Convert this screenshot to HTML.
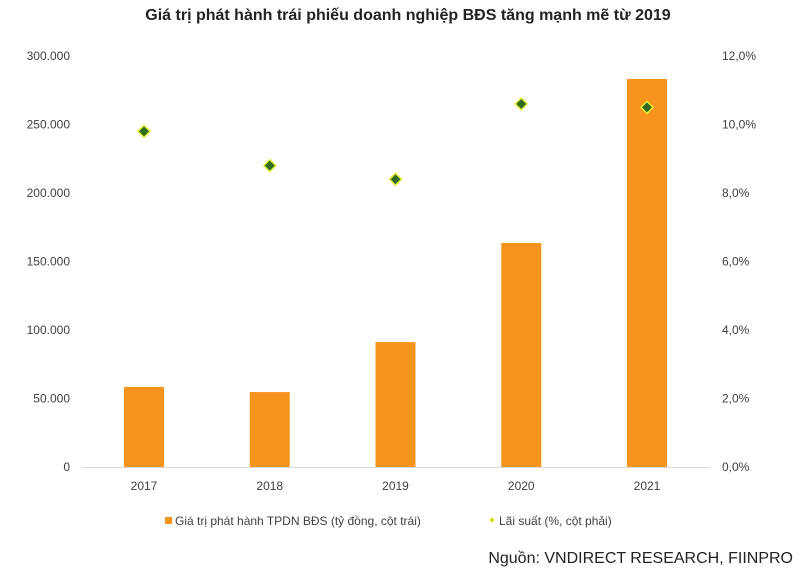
<!DOCTYPE html>
<html><head><meta charset="utf-8"><style>
body{margin:0;background:#fff;font-family:"Liberation Sans",Arial,sans-serif;}
svg text{font-family:"Liberation Sans",Arial,sans-serif;}
</style></head><body>
<svg id="chart" width="811" height="573" viewBox="0 0 811 573" xmlns="http://www.w3.org/2000/svg">
<text x="408" y="20" text-anchor="middle" font-size="16" font-weight="bold" fill="#222">Giá trị phát hành trái phiếu doanh nghiệp BĐS tăng mạnh mẽ từ 2019</text>
<g id="axes"></g><g id="bars"></g><g id="points"></g>
<line x1="82" y1="467.5" x2="710" y2="467.5" stroke="#d9d9d9" stroke-width="1"/>
<rect x="165" y="517" width="7" height="7" fill="#f7941d"/>
<text x="175" y="525" font-size="12" fill="#404040">Giá trị phát hành TPDN BĐS (tỷ đồng, cột trái)</text>
<circle cx="492" cy="520" r="2" fill="#d4e600"/>
<text x="499" y="525" font-size="12" fill="#404040">Lãi suất (%, cột phải)</text>
<text x="793" y="563" text-anchor="end" font-size="16" fill="#222">Nguồn: VNDIRECT RESEARCH, FIINPRO</text>
</svg>
<script>
const categories=["2017","2018","2019","2020","2021"];
const issuance=[58400,54700,91200,163500,283200];
const rates=[9.8,8.8,8.4,10.6,10.5];
const leftTicks=[0,50000,100000,150000,200000,250000,300000];
const leftTickLabels=["0","50.000","100.000","150.000","200.000","250.000","300.000"];
const rightTicks=[0,2,4,6,8,10,12];
const rightTickLabels=["0,0%","2,0%","4,0%","6,0%","8,0%","10,0%","12,0%"];
const NS="http://www.w3.org/2000/svg";
const y0=467,yTop=56;
const yL=v=>y0-(v/300000)*(y0-yTop);
const yR=v=>y0-(v/12)*(y0-yTop);
const xC=i=>144+i*125.75;
function mk(t,a,p){const e=document.createElementNS(NS,t);for(const k in a)e.setAttribute(k,a[k]);p.appendChild(e);return e;}
const axes=document.getElementById('axes'),bars=document.getElementById('bars'),pts=document.getElementById('points');
leftTicks.forEach((v,i)=>{const t=mk('text',{x:70,y:yL(v)+4,'text-anchor':'end','font-size':12,fill:'#404040'},axes);t.textContent=leftTickLabels[i];

});
rightTicks.forEach((v,i)=>{const t=mk('text',{x:722,y:yR(v)+4,'font-size':12,fill:'#404040'},axes);t.textContent=rightTickLabels[i];

});
categories.forEach((c,i)=>{const t=mk('text',{x:xC(i),y:490,'text-anchor':'middle','font-size':12,fill:'#404040'},axes);t.textContent=c;


const r=mk('rect',{x:xC(i)-20,y:yL(issuance[i]),width:40,height:y0-yL(issuance[i]),fill:'#f7941d'},bars);


const cx=xC(i),cy=yR(rates[i]);
const p=mk('polygon',{points:`${cx},${cy-6} ${cx+6},${cy} ${cx},${cy+6} ${cx-6},${cy}`,fill:'#2e6b1f',stroke:'#e5ee3a','stroke-width':1.5},pts);

});
</script>
</body></html>
